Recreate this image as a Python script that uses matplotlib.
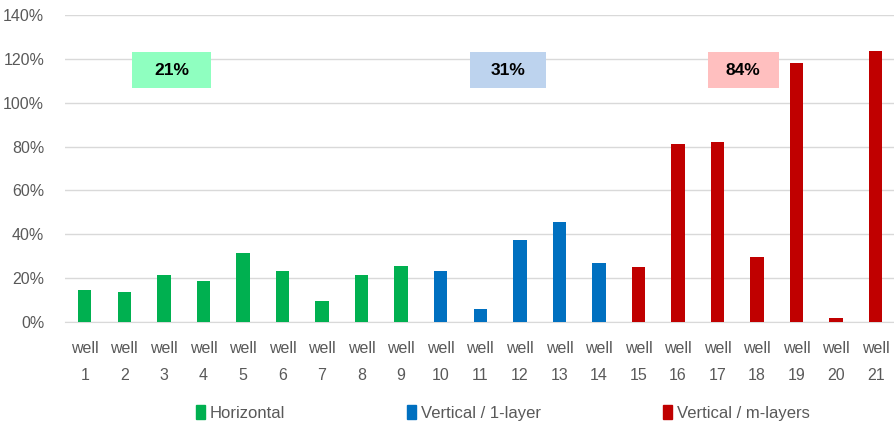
import matplotlib.pyplot as plt
from matplotlib.patches import Rectangle, Patch
from matplotlib.ticker import PercentFormatter

plt.rcParams['font.family'] = ['Liberation Sans', 'DejaVu Sans']

wells = [f"well\n{i}" for i in range(1, 22)]
values = [14.6, 13.8, 21.5, 18.7, 31.4, 23.1, 9.4, 21.5, 25.4,
          23.1, 5.9, 37.5, 45.6, 26.9,
          25.1, 81.0, 81.9, 29.5, 117.9, 1.7, 123.8]
groups = ["Horizontal"] * 9 + ["Vertical / 1-layer"] * 5 + ["Vertical / m-layers"] * 7
group_colors = {"Horizontal": "#00B050", "Vertical / 1-layer": "#0070C0",
                "Vertical / m-layers": "#C00000"}
# group averages shown in the boxes: (label, x-left, x-right, colour)
boxes = [("21%", 1.2, 3.2, "#8FFFC0"), ("31%", 9.75, 11.65, "#BDD3EE"),
         ("84%", 15.75, 17.55, "#FFBFBF")]

fig = plt.figure(figsize=(8.95, 4.28), dpi=100)
ax = fig.add_axes([0.0726, 0.2477, 0.928, 0.7173])

x = range(len(wells))
ax.bar(x, values, width=0.34, color=[group_colors[g] for g in groups], zorder=3)

for label, x0, x1, col in boxes:
    ax.add_patch(Rectangle((x0, 106.5), x1 - x0, 16.5, facecolor=col,
                           edgecolor="none", zorder=2))
    ax.text((x0 + x1) / 2, 114.7, label, ha="center", va="center",
            fontsize=12.5, fontweight="bold", zorder=4)

ax.set_xlim(-0.5, len(wells) - 0.5)
ax.set_ylim(0, 140)
ax.set_yticks(range(0, 141, 20))
ax.yaxis.set_major_formatter(PercentFormatter(decimals=0))
ax.set_xticks(list(x))
ax.set_xticklabels(wells, linespacing=1.95)
ax.tick_params(axis="both", length=0, labelsize=11.5, labelcolor="#595959")
ax.tick_params(axis="y", pad=15)
ax.tick_params(axis="x", pad=14)
ax.grid(axis="y", color="#D9D9D9", linewidth=1, zorder=0)
for s in ["top", "right", "left"]:
    ax.spines[s].set_visible(False)
ax.spines["bottom"].set_color("#D9D9D9")

handles = [Patch(color=c, label=g) for g, c in group_colors.items()]
fig.legend(handles=handles, loc="center", bbox_to_anchor=(0.562, 0.035), ncol=3,
           frameon=False, fontsize=12, labelcolor="#595959", handlelength=0.55,
           handleheight=0.85, handletextpad=0.3, columnspacing=7.3)

fig.savefig("out.png", dpi=100)
